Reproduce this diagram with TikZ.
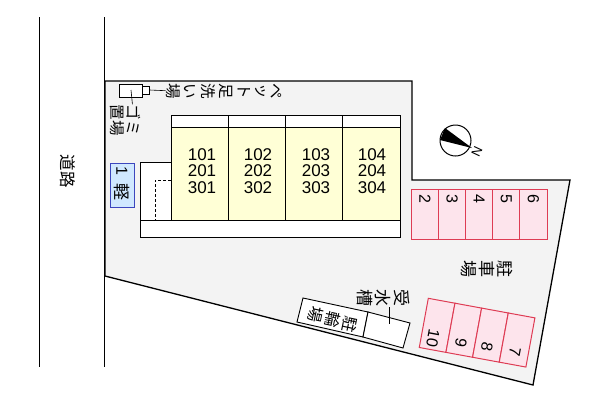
\documentclass[tikz,border=0pt]{standalone}
\usepackage{fontspec}
\setmainfont{Liberation Sans}
\newfontfamily\jpfont{Noto Sans CJK JP}
\usepackage{tikz}
\usetikzlibrary{arrows}
\definecolor{groundgray}{RGB}{243,243,243}
\definecolor{roomyellow}{RGB}{255,255,214}
\definecolor{parkpink}{RGB}{253,228,236}
\definecolor{parkred}{RGB}{222,60,84}
\definecolor{keiblue}{RGB}{208,232,255}
\definecolor{keiedge}{RGB}{60,70,190}
\tikzset{
	jp/.style={font=\jpfont\fontsize{#1}{#1}\selectfont,inner sep=0pt,rotate=-90},
	jp/.default=14,
	num/.style={font=\fontsize{16}{16}\selectfont,inner sep=0pt,rotate=-90},
	room/.style={font=\fontsize{17}{16.5}\selectfont,align=center,inner sep=0pt},
	wall/.style={draw=black,line width=0.9pt},
	park/.style={draw=parkred,fill=parkpink,line width=1pt},
	leader/.style={draw=black,line width=0.6pt}
}
\begin{document}
\begin{tikzpicture}[x=1pt,y=-1pt]
	\useasboundingbox (0,0) rectangle (600,400);
	\fill[white] (0,0) rectangle (600,400);
	% site outline
	\draw[fill=groundgray,line width=1.3pt] (105,81) -- (412,81) -- (412,180) -- (570,180) -- (533,385) -- (105,276) -- cycle;
	% road
	\draw[line width=1pt] (39,17) -- (39,367);
	\draw[line width=1pt] (104,17) -- (104,367);
	\node[jp=16.5] (road) at (68,171) {道路};
	% building
	\draw[wall,fill=white] (140,162) rectangle (171,220);
	\draw[wall,fill=white] (140,220) rectangle (400,237);
	\draw[wall,fill=white] (171,115) rectangle (400,127);
	\draw[wall,fill=roomyellow] (171,127) rectangle (400,220);
	\foreach \x in {228,285,342}
	\draw[wall] (\x,115) -- (\x,220);
	\draw[densely dashed,line width=0.8pt] (171,180) -- (155,180) -- (155,220);
	\node[room] (room1) at (202,171) {101\\201\\301};
	\node[room] (room2) at (258,171) {102\\202\\302};
	\node[room] (room3) at (316,171) {103\\203\\303};
	\node[room] (room4) at (372,171) {104\\204\\304};
	% light car space
	\draw[draw=keiedge,fill=keiblue,line width=1pt] (110.5,163) rectangle (134,207);
	\node[num] (keinum) at (122,171) {1};
	\node[jp=17] (kei) at (122,192) {軽};
	% foot wash and rubbish
	\draw[wall,fill=white] (119,84) rectangle (142,97);
	\draw[wall,fill=white] (142,86) rectangle (149.5,94);
	\coordinate (washend) at (149.5,90);
	\coordinate (binmid) at (131,90);
	\foreach \c/\x in {ペ/276,ッ/260,ト/244,足/226,洗/208,い/190,場/173}
	\node[jp=15.5] (wash\x) at (\x,91) {\c};
	\node[jp=15.5] (binb) at (134,120) {ゴミ};
	\node[jp=15.5] (bina) at (117.5,120) {置場};
	\draw[leader] (washend) -- (wash173);
	\draw[leader] (binmid) -- (binb);
	% parking, top row
	\foreach \x/\n in {411.5/2,438.6/3,465.7/4,492.8/5,519.9/6}{
		\draw[park] (\x,189) rectangle +(27.1,50.5);
		\node[num] (park\n) at (\x+13.5,198.5) {\n};
	}
	\foreach \c/\x in {駐/505,車/487,場/469}
	\node[jp=17] (lot\x) at (\x,269) {\c};
	% parking, bottom row
	\begin{scope}[shift={(428.3,298.3)},rotate=-10.4]
		\foreach \i/\n in {0/10,1/9,2/8,3/7}{
			\draw[park] (\i*27.1,0) rectangle +(27.1,50);
		}
	\end{scope}
	\node[num,rotate=-10.4] (park10) at (433,338) {10};
	\node[num,rotate=-10.4] (park9) at (461,343) {9};
	\node[num,rotate=-10.4] (park8) at (487,347) {8};
	\node[num,rotate=-10.4] (park7) at (515,352) {7};
	% bicycles and water tank
	\draw[wall,fill=white] (303,298) -- (368,312) -- (363,337) -- (297,322) -- cycle;
	\draw[wall,fill=white] (368,312) -- (410,323) -- (403,348) -- (363,337) -- cycle;
	\foreach \c/\x/\y in {駐/350/325,輪/333/320,場/316/315}
	\node[jp=16,rotate=-12] (bike\x) at (\x,\y) {\c};
	\foreach \c/\x in {受/402,水/383,槽/365}
	\node[jp=17] (tank\x) at (\x,298) {\c};
	\coordinate (tankmid) at (389,324);
	\draw[leader] (389,307) -- (tankmid);
	% north mark
	\node[draw,circle,line width=1pt,minimum size=31pt,inner sep=0pt] (compass) at (455.5,140.5) {};
	\fill (445,128) -- (440,140) -- (472,148) -- cycle;
	\node[font=\fontsize{13}{13}\selectfont,inner sep=0pt,rotate=-115] (north) at (477,152) {N};
\end{tikzpicture}
\end{document}
